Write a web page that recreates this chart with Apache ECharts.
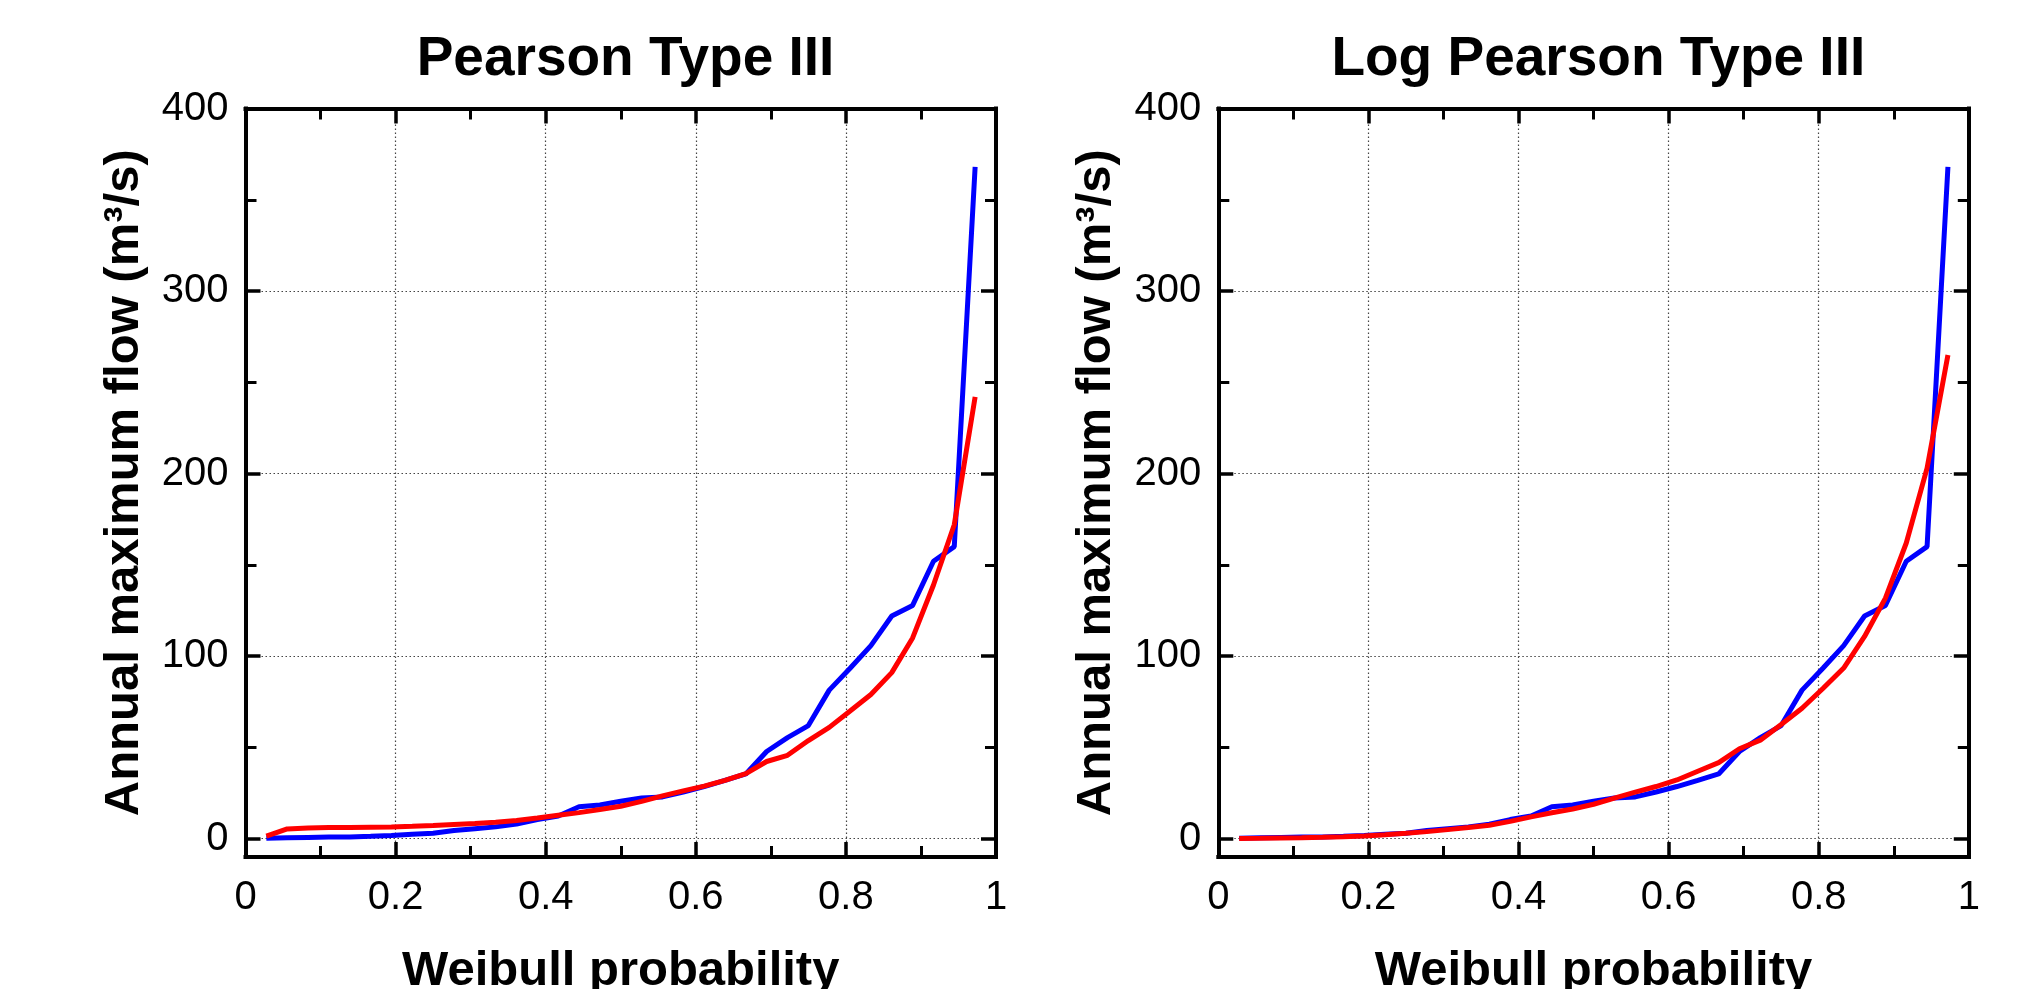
<!DOCTYPE html>
<html>
<head>
<meta charset="utf-8">
<title>Pearson Type III / Log Pearson Type III</title>
<script src="https://cdn.jsdelivr.net/npm/echarts@6/dist/echarts.min.js"></script>
<style>
  html, body { margin: 0; padding: 0; background: #fff; }
  #chart { width: 2026px; height: 989px; }
</style>
</head>
<body>
<div id="chart"></div>
<script>
  // Weibull plotting positions of the sorted annual maxima (35 years)
  var weibullP = [0.0278, 0.0556, 0.0833, 0.1111, 0.1389, 0.1667, 0.1944, 0.2222, 0.25, 0.2778,
                  0.3056, 0.3333, 0.3611, 0.3889, 0.4167, 0.4444, 0.4722, 0.5, 0.5278, 0.5556,
                  0.5833, 0.6111, 0.6389, 0.6667, 0.6944, 0.7222, 0.75, 0.7778, 0.8056, 0.8333,
                  0.8611, 0.8889, 0.9167, 0.9444, 0.9722];
  // observed annual maximum flow (m3/s), blue
  var observedFlow = [0.3, 0.5, 0.7, 0.9, 1.0, 1.3, 1.8, 2.5, 3.0, 4.5,
                      5.5, 6.5, 8, 10.5, 12.5, 17.5, 18.5, 20.5, 22.3, 22.9,
                      25.6, 28.6, 32, 35.5, 47.8, 55.4, 62, 81.4, 93.4, 105.8,
                      122, 127.8, 152, 160, 368];
  // Pearson type III fit, red (left)
  var pearson3Flow = [1.4, 5.4, 5.9, 6.1, 6.1, 6.3, 6.5, 6.8, 7.2, 7.8,
                      8.3, 9.0, 10, 11.4, 12.9, 14.3, 16, 17.8, 20.5, 23.5,
                      26.2, 28.8, 32, 35.7, 42.3, 45.7, 53.8, 61, 70, 79,
                      91, 110, 139, 172, 242];
  // Log Pearson type III fit, red (right)
  var logPearson3Flow = [0.2, 0.3, 0.45, 0.6, 0.8, 1.1, 1.5, 2.2, 3.0, 3.9,
                         5.0, 6.1, 7.4, 9.5, 12, 14.2, 16.3, 18.9, 22.3, 25.5,
                         28.6, 32.2, 37, 41.7, 49.3, 54, 62.6, 71.5, 82.3, 93.5,
                         110.8, 131.8, 162, 203, 265];

  var panelTitles = ['Pearson Type III', 'Log Pearson Type III'];
  var yMajorTicks = [0, 100, 200, 300, 400];
  var yMinorTicks = [50, 150, 250, 350];

  var font = '"Liberation Sans", Arial, Helvetica, sans-serif';
  var gridLeft = [245.5, 1218.3];

  function pairs(xs, ys) {
    return xs.map(function (x, i) { return [x, ys[i]]; });
  }

  var dotted = { color: '#444', width: 1.2, type: [1.5, 2.5] };
  var blackLine = { color: '#000', width: 4, cap: 'square' };
  var majorTickStyle = { color: '#000', width: 3.5 };
  var minorTickStyle = { color: '#000', width: 3 };

  var grids = [], xAxes = [], yAxes = [], titles = [], series = [];
  [0, 1].forEach(function (g) {
    grids.push({ left: gridLeft[g], top: 108.5, width: 750.5, height: 748.5, outerBoundsMode: 'none' });
    titles.push({
      text: panelTitles[g],
      left: gridLeft[g] + 375,
      top: 27,
      textAlign: 'center',
      textStyle: { fontFamily: font, fontSize: 55, fontWeight: 'bold', color: '#000' }
    });

    // bottom and top x axes, ticks pointing into the plot
    xAxes.push({
      gridIndex: g, type: 'value', position: 'bottom', min: 0, max: 1, interval: 0.2,
      name: 'Weibull probability', nameLocation: 'middle', nameGap: 90,
      nameTextStyle: { fontFamily: font, fontSize: 49, fontWeight: 'bold', color: '#000' },
      axisLine: { show: true, onZero: false, lineStyle: blackLine },
      axisTick: { show: true, inside: true, length: 15, lineStyle: majorTickStyle },
      minorTick: { show: true, splitNumber: 2, length: 11, lineStyle: minorTickStyle },
      axisLabel: { fontFamily: font, fontSize: 40, color: '#000', margin: 21 },
      splitLine: { show: true, lineStyle: dotted }
    });
    xAxes.push({
      gridIndex: g, type: 'value', position: 'top', min: 0, max: 1, interval: 0.2,
      axisLine: { show: true, onZero: false, lineStyle: blackLine },
      axisTick: { show: true, inside: true, length: 15, lineStyle: majorTickStyle },
      minorTick: { show: true, splitNumber: 2, length: 11, lineStyle: minorTickStyle },
      axisLabel: { show: false },
      splitLine: { show: false }
    });

    // left (labelled) and right y axes, each with a helper axis for the minor ticks
    yAxes.push({
      gridIndex: g, type: 'value', position: 'left', min: -10, max: 400,
      name: 'Annual maximum flow (m³/s)', nameLocation: 'middle', nameGap: 97,
      nameTextStyle: { fontFamily: font, fontSize: 49, fontWeight: 'bold', color: '#000' },
      axisLine: { show: true, onZero: false, lineStyle: blackLine },
      axisTick: { show: true, inside: true, length: 15, customValues: yMajorTicks, lineStyle: majorTickStyle },
      axisLabel: { fontFamily: font, fontSize: 40, color: '#000', margin: 17, customValues: yMajorTicks },
      splitLine: { show: true, lineStyle: dotted }
    });
    yAxes.push({
      gridIndex: g, type: 'value', position: 'left', min: -10, max: 400,
      axisLine: { show: false, onZero: false },
      axisTick: { show: true, inside: true, length: 11, customValues: yMinorTicks, lineStyle: minorTickStyle },
      axisLabel: { show: false },
      splitLine: { show: false }
    });
    yAxes.push({
      gridIndex: g, type: 'value', position: 'right', min: -10, max: 400,
      axisLine: { show: true, onZero: false, lineStyle: blackLine },
      axisTick: { show: true, inside: true, length: 15, customValues: yMajorTicks, lineStyle: majorTickStyle },
      axisLabel: { show: false },
      splitLine: { show: false }
    });
    yAxes.push({
      gridIndex: g, type: 'value', position: 'right', min: -10, max: 400,
      axisLine: { show: false, onZero: false },
      axisTick: { show: true, inside: true, length: 11, customValues: yMinorTicks, lineStyle: minorTickStyle },
      axisLabel: { show: false },
      splitLine: { show: false }
    });

    var fitted = g === 0 ? pearson3Flow : logPearson3Flow;
    series.push({
      type: 'line', xAxisIndex: g * 2, yAxisIndex: g * 4,
      data: pairs(weibullP, observedFlow),
      showSymbol: false, symbol: 'none', color: '#0000ff',
      lineStyle: { color: '#0000ff', width: 5 }
    });
    series.push({
      type: 'line', xAxisIndex: g * 2, yAxisIndex: g * 4,
      data: pairs(weibullP, fitted),
      showSymbol: false, symbol: 'none', color: '#ff0000',
      lineStyle: { color: '#ff0000', width: 5 }
    });
  });

  var chart = echarts.init(document.getElementById('chart'));
  chart.setOption({
    backgroundColor: '#fff',
    animation: false,
    title: titles,
    grid: grids,
    xAxis: xAxes,
    yAxis: yAxes,
    series: series
  });
</script>
</body>
</html>
